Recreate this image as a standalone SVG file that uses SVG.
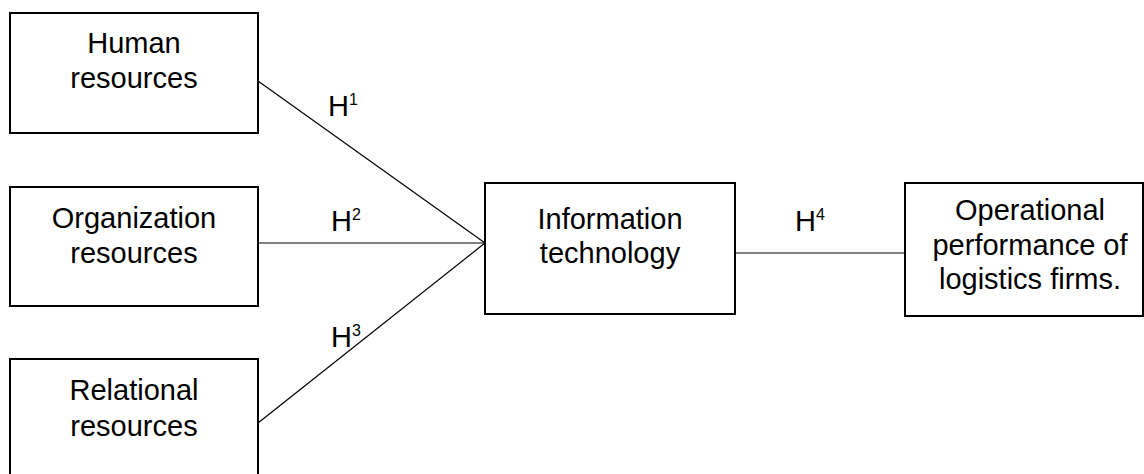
<svg xmlns="http://www.w3.org/2000/svg" width="1144" height="474" viewBox="0 0 1144 474">
<style>
.box{fill:#fff;stroke:#000;stroke-width:2}
.t{font-family:"Liberation Sans",Arial,sans-serif;font-size:29px;fill:#000;text-anchor:middle}
.h{font-family:"Liberation Sans",Arial,sans-serif;font-size:29px;fill:#000}
.sup{font-size:16px}
.c{stroke:#000;stroke-width:1.2;fill:none}
</style>
<rect width="1144" height="474" fill="#fff"/>
<g id="connectors">
<line class="c" x1="258" y1="81" x2="485" y2="243"/>
<line class="c" x1="255" y1="243" x2="485" y2="243"/>
<line class="c" x1="258" y1="423" x2="485" y2="243"/>
<line class="c" x1="735" y1="253" x2="905" y2="253"/>
<text class="h" x="328" y="116">H<tspan class="sup" dy="-11">1</tspan></text>
<text class="h" x="331" y="231">H<tspan class="sup" dy="-11">2</tspan></text>
<text class="h" x="331" y="347">H<tspan class="sup" dy="-11">3</tspan></text>
<text class="h" x="795" y="231">H<tspan class="sup" dy="-11">4</tspan></text>
</g>
<g id="human">
<rect class="box" x="10" y="13" width="248" height="120"/>
<text class="t" x="134" y="53">Human</text>
<text class="t" x="134" y="88">resources</text>
</g>
<g id="organization">
<rect class="box" x="10" y="187" width="248" height="119"/>
<text class="t" x="134" y="228">Organization</text>
<text class="t" x="134" y="263">resources</text>
</g>
<g id="relational">
<rect class="box" x="10" y="359" width="248" height="125"/>
<text class="t" x="134" y="400">Relational</text>
<text class="t" x="134" y="436">resources</text>
</g>
<g id="it">
<rect class="box" x="485" y="183" width="250" height="131"/>
<text class="t" x="610" y="229">Information</text>
<text class="t" x="610" y="263">technology</text>
</g>
<g id="performance">
<rect class="box" x="905" y="183" width="238" height="133"/>
<text class="t" x="1030" y="220">Operational</text>
<text class="t" x="1030" y="255">performance of</text>
<text class="t" x="1030" y="289">logistics firms.</text>
</g>
</svg>
